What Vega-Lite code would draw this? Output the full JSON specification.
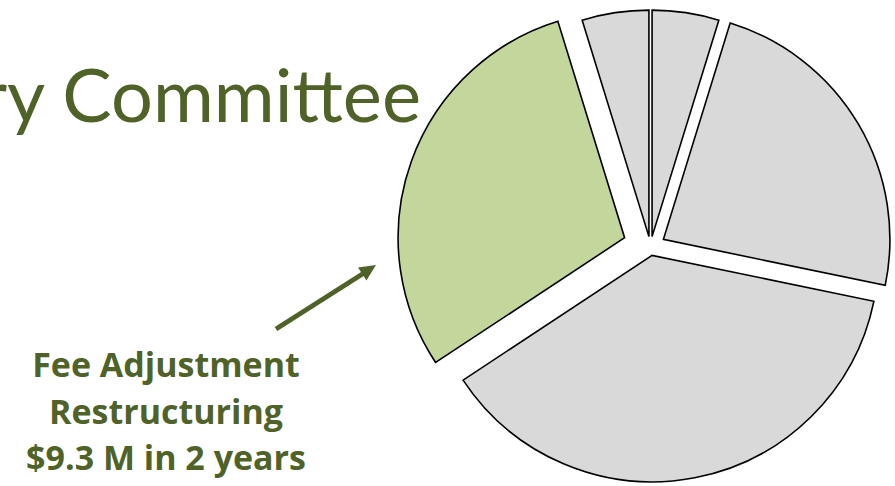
{
  "$schema": "https://vega.github.io/schema/vega-lite/v6.json",
  "width": 895,
  "height": 486,
  "padding": 0,
  "autosize": {"type": "none"},
  "background": "white",
  "config": {"view": {"stroke": null}},
  "datasets": {
    "pie": [
      {"slice": "Item 1", "order": 1, "value": 1.5, "explode": 10.5},
      {"slice": "Item 2", "order": 2, "value": 7.4, "explode": 15},
      {"slice": "Item 3", "order": 3, "value": 11.8, "explode": 8.5},
      {"slice": "Fee Adjustment Restructuring", "order": 4, "value": 9.3, "explode": 27.5},
      {"slice": "Item 5", "order": 5, "value": 1.5, "explode": 10.5}
    ],
    "title": [
      {"text": "ry Committee", "x": -229.5, "y": -125}
    ],
    "labels": [
      {"text": "Fee Adjustment", "x": -484.5, "y": 130},
      {"text": "Restructuring", "x": -484.5, "y": 176.5},
      {"text": "$9.3 M in 2 years", "x": -484.5, "y": 223}
    ],
    "arrow": [
      {"x": -374.5, "y": 82, "x2": -286.5, "y2": 26}
    ],
    "arrowhead": [
      {"x": -282.9, "y": 23.45}
    ]
  },
  "layer": [
    {
      "data": {"name": "title"},
      "mark": {"type": "text", "align": "right", "baseline": "alphabetic", "font": "Lato", "fontSize": 74, "color": "#4F6228"},
      "encoding": {
        "x": {"field": "x", "type": "quantitative", "scale": {"domain": [-650.5, 244.5], "nice": false, "zero": false}, "axis": null},
        "y": {"field": "y", "type": "quantitative", "scale": {"domain": [-247, 239], "reverse": true, "nice": false, "zero": false}, "axis": null},
        "text": {"field": "text"}
      }
    },
    {
      "data": {"name": "pie"},
      "transform": [
        {"window": [{"op": "sum", "field": "value", "as": "cum"}], "sort": [{"field": "order"}], "frame": [null, 0]},
        {"joinaggregate": [{"op": "sum", "field": "value", "as": "total"}]},
        {"calculate": "(datum.cum - datum.value) / datum.total * 2 * PI", "as": "a0"},
        {"calculate": "datum.cum / datum.total * 2 * PI", "as": "a1"},
        {"calculate": "datum.explode * sin((datum.a0 + datum.a1) / 2)", "as": "dx"},
        {"calculate": "-datum.explode * cos((datum.a0 + datum.a1) / 2)", "as": "dy"}
      ],
      "mark": {"type": "arc", "radius": 226.5, "stroke": "#000000", "strokeWidth": 1.6, "strokeJoin": "miter"},
      "encoding": {
        "x": {"field": "dx", "type": "quantitative", "scale": {"domain": [-650.5, 244.5], "nice": false, "zero": false}, "axis": null},
        "y": {"field": "dy", "type": "quantitative", "scale": {"domain": [-247, 239], "reverse": true, "nice": false, "zero": false}, "axis": null},
        "theta": {"field": "a0", "type": "quantitative", "stack": null, "scale": {"domain": [0, 6.283185307179586], "range": [0, 6.283185307179586]}},
        "theta2": {"field": "a1"},
        "color": {
          "field": "slice", "type": "nominal", "legend": null,
          "scale": {
            "domain": ["Item 1", "Item 2", "Item 3", "Fee Adjustment Restructuring", "Item 5"],
            "range": ["#D9D9D9", "#D9D9D9", "#D9D9D9", "#C3D69B", "#D9D9D9"]
          }
        }
      }
    },
    {
      "data": {"name": "labels"},
      "mark": {"type": "text", "align": "center", "baseline": "alphabetic", "font": "Open Sans", "fontWeight": "bold", "fontSize": 34, "color": "#4F6228"},
      "encoding": {
        "x": {"field": "x", "type": "quantitative", "scale": {"domain": [-650.5, 244.5], "nice": false, "zero": false}, "axis": null},
        "y": {"field": "y", "type": "quantitative", "scale": {"domain": [-247, 239], "reverse": true, "nice": false, "zero": false}, "axis": null},
        "text": {"field": "text"}
      }
    },
    {
      "data": {"name": "arrow"},
      "mark": {"type": "rule", "color": "#4F6228", "strokeWidth": 5, "strokeCap": "butt"},
      "encoding": {
        "x": {"field": "x", "type": "quantitative", "scale": {"domain": [-650.5, 244.5], "nice": false, "zero": false}, "axis": null},
        "y": {"field": "y", "type": "quantitative", "scale": {"domain": [-247, 239], "reverse": true, "nice": false, "zero": false}, "axis": null},
        "x2": {"field": "x2"},
        "y2": {"field": "y2"}
      }
    },
    {
      "data": {"name": "arrowhead"},
      "mark": {"type": "point", "shape": "M0,-1L0.77,0.64L-0.77,0.64Z", "filled": true, "size": 400, "angle": 57, "color": "#4F6228", "opacity": 1},
      "encoding": {
        "x": {"field": "x", "type": "quantitative", "scale": {"domain": [-650.5, 244.5], "nice": false, "zero": false}, "axis": null},
        "y": {"field": "y", "type": "quantitative", "scale": {"domain": [-247, 239], "reverse": true, "nice": false, "zero": false}, "axis": null}
      }
    }
  ]
}
